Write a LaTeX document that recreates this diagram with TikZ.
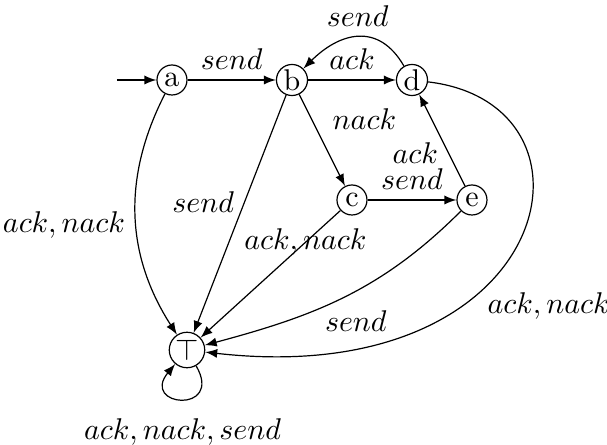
\documentclass[tikz,border=0pt]{standalone}
\usetikzlibrary{positioning}

\begin{document}
\begin{tikzpicture}[x=40pt, y=40pt, >=latex,
        loc/.style={draw, circle, minimum size=10pt, inner sep=0.5pt}]
                \useasboundingbox (-1.4333,-3.0417) rectangle (3.625,0.6667);

                % Define states
                \node[loc] (a) at (0,0) {a};
                \node[loc] (b) at (1,0) {b};
                \node[loc] (d) at (2,0) {d};
                \node[loc] (c) at (1.5,-1) {c};
                \node[loc] (e) at (2.5,-1) {e};
                \node[loc] (top) at (0.125,-2.25) {$\top$};
                \coordinate (start) at (-0.46,0);

                % Draw transitions
                \draw[->] (start) -- (a);
                \draw[->] (a) -- (b) node[midway, above] {$send$};
                \draw[->] (b) -- (d) node[midway, above] {$ack$};
                \draw[->] (d) to[out=120, in=45, looseness=1.3] node[midway, above] {$send$} (b);
                \draw[->] (b) -- (c) node[midway, above right] {$nack$};
                \draw[->] (c) -- (e) node[midway, above] {$send$};
                \draw[->] (e) -- (d) node[pos=0.36, left] {$ack$};
                \draw[->] (a) to[bend right=30] node[midway, left, yshift=-3pt] {$ack, nack$} (top);
                \draw[->] (b) -- (top) node[pos=0.45, left] {$send$};
                \draw[->] (c) -- (top) node[pos=0.25] {$ack, nack$};
                \draw[->] (e) to[out=-135, in=15] node[pos=0.45, below=3pt] {$send$} (top);
                \draw[->] (d) .. controls (3.7,-0.2) and (3.2,-2.6) .. node[pos=0.67, right=6pt] {$ack, nack$} (top);
                \draw[->] (top) .. controls +(-60:0.62) and +(-130:0.62) .. node[below=3pt] {$ack, nack, send$} (top);
        \end{tikzpicture}
\end{document}
